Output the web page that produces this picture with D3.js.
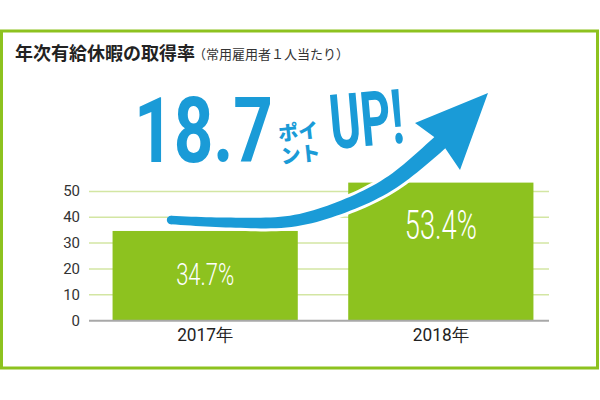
<!DOCTYPE html>
<html>
<head>
<meta charset="utf-8">
<script src="https://cdn.jsdelivr.net/npm/d3@7"></script>
<style>
  html, body { margin: 0; padding: 0; background: #fff; }
  svg { display: block; }
</style>
</head>
<body>
<svg id="chart" width="600" height="400"></svg>
<script>
// chart values
const years = ["2017年", "2018年"];
const rates = [34.7, 53.4];
const yTicks = [0, 10, 20, 30, 40, 50];
const diffLabel = "18.7";
const titleText = "年次有給休暇の取得率";
const subText = "（常用雇用者１人当たり）";

const GREEN = "#8dc21f";
const BLUE = "#1a9bd7";

const svg = d3.select("#chart");

// outer frame
svg.append("rect")
  .attr("x", 1.5).attr("y", 31)
  .attr("width", 596).attr("height", 337)
  .attr("fill", "none")
  .attr("stroke", GREEN)
  .attr("stroke-width", 3);

// title
svg.append("text")
  .attr("x", 15).attr("y", 60)
  .attr("font-family", "'Noto Sans CJK JP', sans-serif")
  .attr("font-weight", "bold")
  .attr("font-size", 18)
  .attr("fill", "#222")
  .text(titleText);
svg.append("text")
  .attr("x", 193).attr("y", 59)
  .attr("font-family", "'Noto Sans CJK JP', sans-serif")
  .attr("font-size", 13)
  .attr("fill", "#333")
  .text(subText);

// scales
const x = d3.scaleBand()
  .domain(years)
  .range([89, 557])
  .paddingInner(0.214)
  .paddingOuter(0.1);
const y = d3.scaleLinear().domain([0, 50]).range([320.7, 191.4]);

// grid
const g = svg.append("g");
g.selectAll(".grid")
  .data(yTicks.filter(d => d > 0))
  .join("line")
  .attr("x1", 89).attr("x2", 549)
  .attr("y1", d => y(d)).attr("y2", d => y(d))
  .attr("stroke", "#d3e6a3")
  .attr("stroke-width", 1.5);

// tick labels
g.selectAll(".tick")
  .data(yTicks)
  .join("text")
  .attr("x", 80)
  .attr("y", d => y(d))
  .attr("dy", "0.33em")
  .attr("text-anchor", "end")
  .attr("font-family", "Roboto, sans-serif")
  .attr("font-size", 15)
  .attr("fill", "#333")
  .text(d => d);

// bars
g.selectAll(".bar")
  .data(rates)
  .join("rect")
  .attr("x", (d, i) => x(years[i]))
  .attr("y", d => y(d))
  .attr("width", x.bandwidth())
  .attr("height", d => y(0) - y(d))
  .attr("fill", GREEN);

// baseline
g.append("line")
  .attr("x1", 89).attr("x2", 549)
  .attr("y1", y(0)).attr("y2", y(0))
  .attr("stroke", "#a8a8a8")
  .attr("stroke-width", 2);

// category labels
g.selectAll(".cat")
  .data(years)
  .join("text")
  .attr("x", d => x(d) + x.bandwidth() / 2)
  .attr("y", 341)
  .attr("text-anchor", "middle")
  .attr("font-family", "Roboto, sans-serif")
  .attr("font-size", 18)
  .attr("fill", "#222")
  .attr("textLength", 56)
  .attr("lengthAdjust", "spacingAndGlyphs")
  .text(d => d);

// value labels (condensed white)
const valSizes = [31, 41];
const valWidths = [58, 72];
g.selectAll(".val")
  .data(rates)
  .join("text")
  .attr("x", (d, i) => x(years[i]) + x.bandwidth() / 2 - valWidths[i] / 2)
  .attr("y", (d, i) => i === 0 ? y(d / 2) + 9 : y(d) + 56)
  .attr("font-family", "Roboto, sans-serif")
  .attr("font-weight", 300)
  .attr("font-size", (d, i) => valSizes[i])
  .attr("fill", "#fff")
  .attr("textLength", (d, i) => valWidths[i])
  .attr("lengthAdjust", "spacingAndGlyphs")
  .text(d => d.toFixed(1) + "%");

// rising arrow (annotation)
const center = [[171, 220], [227, 222.5], [293, 221], [347, 205], [393, 181.5], [446, 137]];
const head = [[488, 93], [415, 123], [441, 142], [460, 170]];
const tmp = svg.append("path")
  .attr("d", d3.line().curve(d3.curveCatmullRom)(center))
  .attr("fill", "none");
const node = tmp.node();
const L = node.getTotalLength();
const N = 60;
const samples = d3.range(N + 1).map(i => {
  const p = node.getPointAtLength(L * i / N);
  return [p.x, p.y, i / N];
});
tmp.remove();
const upper = [], lower = [];
samples.forEach((s, i) => {
  const a = samples[Math.max(0, i - 1)], b = samples[Math.min(N, i + 1)];
  let dx = b[0] - a[0], dy = b[1] - a[1];
  const len = Math.hypot(dx, dy);
  dx /= len; dy /= len;
  const w = (4.2 + 3.8 * s[2]);
  upper.push([s[0] + dy * w, s[1] - dx * w]);
  lower.push([s[0] - dy * w, s[1] + dx * w]);
});
const shaft = upper.concat(lower.reverse());
const arrowShapes = [shaft, head];
const poly = d3.line().curve(d3.curveLinearClosed);

const arrow = svg.append("g");
arrow.selectAll(".halo")
  .data(arrowShapes)
  .join("path")
  .attr("d", d => poly(d))
  .attr("fill", "#fff")
  .attr("stroke", "#fff")
  .attr("stroke-width", 6)
  .attr("stroke-linejoin", "round");
arrow.append("circle")
  .attr("cx", center[0][0]).attr("cy", center[0][1])
  .attr("r", 4.2).attr("fill", BLUE);
arrow.selectAll(".body")
  .data(arrowShapes)
  .join("path")
  .attr("d", d => poly(d))
  .attr("fill", BLUE);

// headline: 18.7 ポイント UP!
const hl = svg.append("g").attr("fill", BLUE)
  .attr("font-family", "Roboto, sans-serif")
  .attr("font-weight", "bold");
hl.append("text")
  .attr("x", 134).attr("y", 162)
  .attr("font-size", 90)
  .attr("textLength", 139)
  .attr("lengthAdjust", "spacingAndGlyphs")
  .text(diffLabel);
const pt = hl.append("g")
  .attr("font-family", "'Noto Sans CJK JP', sans-serif")
  .attr("font-weight", 900)
  .attr("font-size", 20)
  .attr("transform", "rotate(-6, 298, 140)");
pt.append("text").attr("x", 279).attr("y", 139)
  .attr("textLength", 40).attr("lengthAdjust", "spacingAndGlyphs").text("ポイ");
pt.append("text").attr("x", 279).attr("y", 162)
  .attr("textLength", 40).attr("lengthAdjust", "spacingAndGlyphs").text("ント");
hl.append("text")
  .attr("x", 332).attr("y", 149)
  .attr("font-size", 76)
  .attr("textLength", 74)
  .attr("lengthAdjust", "spacingAndGlyphs")
  .attr("transform", "rotate(-5, 332, 149)")
  .text("UP!");
</script>
</body>
</html>
